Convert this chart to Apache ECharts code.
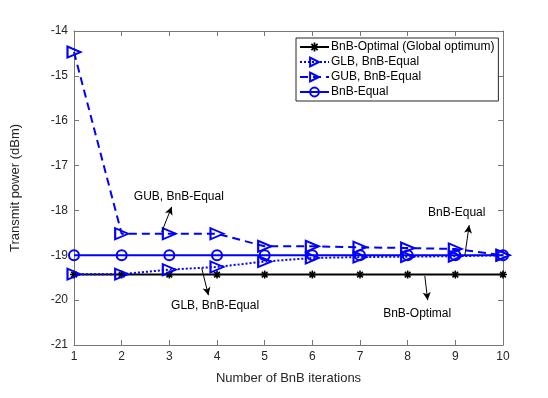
<!DOCTYPE html>
<html>
<head>
<meta charset="utf-8">
<script src="https://cdn.jsdelivr.net/npm/echarts@6/dist/echarts.min.js"></script>
<style>
  html, body { margin: 0; padding: 0; background: #fff; }
  #main { width: 548px; height: 398px; }
</style>
</head>
<body>
<div id="main"></div>
<script>
// data
var iterations = [1, 2, 3, 4, 5, 6, 7, 8, 9, 10];
var bnbOptimal = [-19.43, -19.43, -19.43, -19.43, -19.43, -19.43, -19.43, -19.43, -19.43, -19.43];
var glbEqual   = [-19.42, -19.42, -19.32, -19.26, -19.14, -19.06, -19.04, -19.03, -19.02, -19.0];
var gubEqual   = [-14.47, -18.52, -18.52, -18.52, -18.8, -18.8, -18.82, -18.84, -18.86, -19.0];
var bnbEqual   = [-19.0, -19.0, -19.0, -19.0, -19.0, -19.0, -19.0, -19.0, -19.0, -19.0];
var seriesNames = ['BnB-Optimal (Global optimum)', 'GLB, BnB-Equal', 'GUB, BnB-Equal', 'BnB-Equal'];

// annotations: text, text position, arrow start, arrow end (data units)
var noteTexts = ['GUB, BnB-Equal', 'GLB, BnB-Equal', 'BnB-Equal', 'BnB-Optimal'];
var notePos   = [[3.2, -17.7], [3.96, -20.13], [9.03, -18.04], [8.2, -20.31]];
var arrowFrom = [[2.84, -18.48], [3.68, -19.29], [9.2, -19.0], [8.36, -19.46]];
var arrowTo   = [[3.05, -17.92], [3.82, -19.89], [9.29, -18.33], [8.42, -20.0]];

var FONT = 'Liberation Sans, Arial, sans-serif';
var BLUE = '#0000ff';
var asterisk = 'path://M0 4L10 4L10 6L0 6Z M6 0L6 10L4 10L4 0Z M7.83 9.25L0.75 2.17L2.17 0.75L9.25 7.83Z M9.25 2.17L2.17 9.25L0.75 7.83L7.83 0.75Z';

function pairs(ys) {
  return iterations.map(function (x, i) { return [x, ys[i]]; });
}

var myChart = echarts.init(document.getElementById('main'));

var axisLine = { show: true, lineStyle: { color: '#777', width: 1 } };
var tickIn = { show: true, inside: true, length: 5, lineStyle: { color: '#777' } };

var arrowLines = arrowFrom.map(function (p, i) {
  return [{ coord: p }, { coord: arrowTo[i] }];
});

myChart.setOption({
  animation: false,
  backgroundColor: '#fff',
  grid: { left: 74, right: 45, top: 31, bottom: 53, show: false },
  legend: {
    left: 296, top: 38,
    orient: 'vertical',
    itemWidth: 29, itemHeight: 11, itemGap: 3,
    padding: [3, 4, 3, 3],
    borderColor: '#262626', borderWidth: 1,
    backgroundColor: '#fff',
    textStyle: { fontFamily: FONT, fontSize: 12, color: '#000', padding: [0, 0, 0, -3] },
    data: seriesNames
  },
  xAxis: [{
    type: 'value', min: 1, max: 10, interval: 1,
    name: 'Number of BnB iterations', nameLocation: 'middle', nameGap: 27,
    nameTextStyle: { fontFamily: FONT, fontSize: 13, color: '#262626' },
    axisLine: axisLine, axisTick: tickIn,
    axisLabel: { fontFamily: FONT, fontSize: 12, color: '#262626', margin: 6 },
    splitLine: { show: false }
  }, {
    type: 'value', min: 1, max: 10, interval: 1, position: 'top',
    axisLine: axisLine, axisTick: tickIn, axisLabel: { show: false },
    splitLine: { show: false }
  }],
  yAxis: [{
    type: 'value', min: -21, max: -14, interval: 1,
    name: 'Transmit power (dBm)', nameLocation: 'middle', nameGap: 52,
    nameTextStyle: { fontFamily: FONT, fontSize: 13, color: '#262626' },
    axisLine: axisLine, axisTick: tickIn,
    axisLabel: { fontFamily: FONT, fontSize: 12, color: '#262626', margin: 6 },
    splitLine: { show: false }
  }, {
    type: 'value', min: -21, max: -14, interval: 1, position: 'right',
    axisLine: axisLine, axisTick: tickIn, axisLabel: { show: false },
    splitLine: { show: false }
  }],
  series: [{
    name: seriesNames[0], type: 'line', data: pairs(bnbOptimal),
    symbol: asterisk, symbolSize: 8,
    lineStyle: { color: '#000', width: 2 },
    itemStyle: { color: '#000' }
  }, {
    name: seriesNames[1], type: 'line', data: pairs(glbEqual),
    symbol: 'triangle', symbolSize: [11, 13], symbolRotate: -90,
    lineStyle: { color: BLUE, width: 2, type: [2, 2] },
    itemStyle: { color: 'rgba(0,0,0,0)', borderColor: BLUE, borderWidth: 2 }
  }, {
    name: seriesNames[2], type: 'line', data: pairs(gubEqual),
    symbol: 'triangle', symbolSize: [11, 13], symbolRotate: -90,
    lineStyle: { color: BLUE, width: 2, type: [8, 5] },
    itemStyle: { color: 'rgba(0,0,0,0)', borderColor: BLUE, borderWidth: 2 }
  }, {
    name: seriesNames[3], type: 'line', data: pairs(bnbEqual),
    symbol: 'circle', symbolSize: 10,
    lineStyle: { color: BLUE, width: 2 },
    itemStyle: { color: 'rgba(0,0,0,0)', borderColor: BLUE, borderWidth: 2 },
    markLine: {
      silent: true, animation: false,
      symbol: ['none', 'arrow'], symbolSize: [6, 8],
      label: { show: false },
      lineStyle: { color: '#000', width: 1, type: 'solid' },
      data: arrowLines
    }
  }]
});

// annotation texts placed through the axes
var notes = noteTexts.map(function (t, i) {
  var p = myChart.convertToPixel({ gridIndex: 0 }, notePos[i]);
  return {
    type: 'text', x: p[0], y: p[1], z: 100,
    style: {
      text: t, fill: '#000', font: '12px ' + FONT,
      textAlign: 'center', textVerticalAlign: 'middle'
    }
  };
});
myChart.setOption({ graphic: notes });

window.onresize = function () {
  myChart.resize();
};
</script>
</body>
</html>
